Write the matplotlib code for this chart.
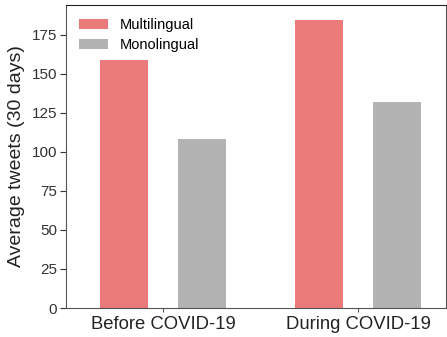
import matplotlib

matplotlib.use("Agg")
import matplotlib.pyplot as plt
import numpy as np

periods = ["Before COVID-19", "During COVID-19"]
multilingual = [158.5, 184.7]
monolingual = [108.3, 132.2]

plt.rcParams["font.family"] = ["Liberation Sans", "DejaVu Sans"]

fig = plt.figure(figsize=(4.47, 3.37), dpi=100)
ax = fig.add_axes([66 / 447, 29 / 337, 380 / 447, 303 / 337])

x = np.arange(len(periods))
w = 0.245
ax.bar(x - 0.2, multilingual, w, color="#eb7a7a", label="Multilingual")
ax.bar(x + 0.2, monolingual, w, color="#b3b3b3", label="Monolingual")

ax.set_xlim(-0.497, 1.45)
ax.set_ylim(0, 194)
ax.set_yticks(np.arange(0, 176, 25))
ax.set_xticks(x)
ax.set_xticklabels(periods, fontsize=13.3, color="#222222")
ax.tick_params(axis="y", labelsize=11, colors="#333333", length=4, pad=2.5)
ax.tick_params(axis="x", length=3, pad=3, color="#555555")
ax.set_ylabel("Average tweets (30 days)", fontsize=14, color="#222222", labelpad=5)

for side in ["left", "bottom", "right"]:
    ax.spines[side].set_color("#555555")
ax.spines["top"].set_color("#222222")

ax.legend(loc="upper left", frameon=False, fontsize=10.5, handlelength=2.0,
          handleheight=0.65, handletextpad=0.8, borderaxespad=0.5,
          labelspacing=0.4)

fig.savefig("out.png", dpi=100)
